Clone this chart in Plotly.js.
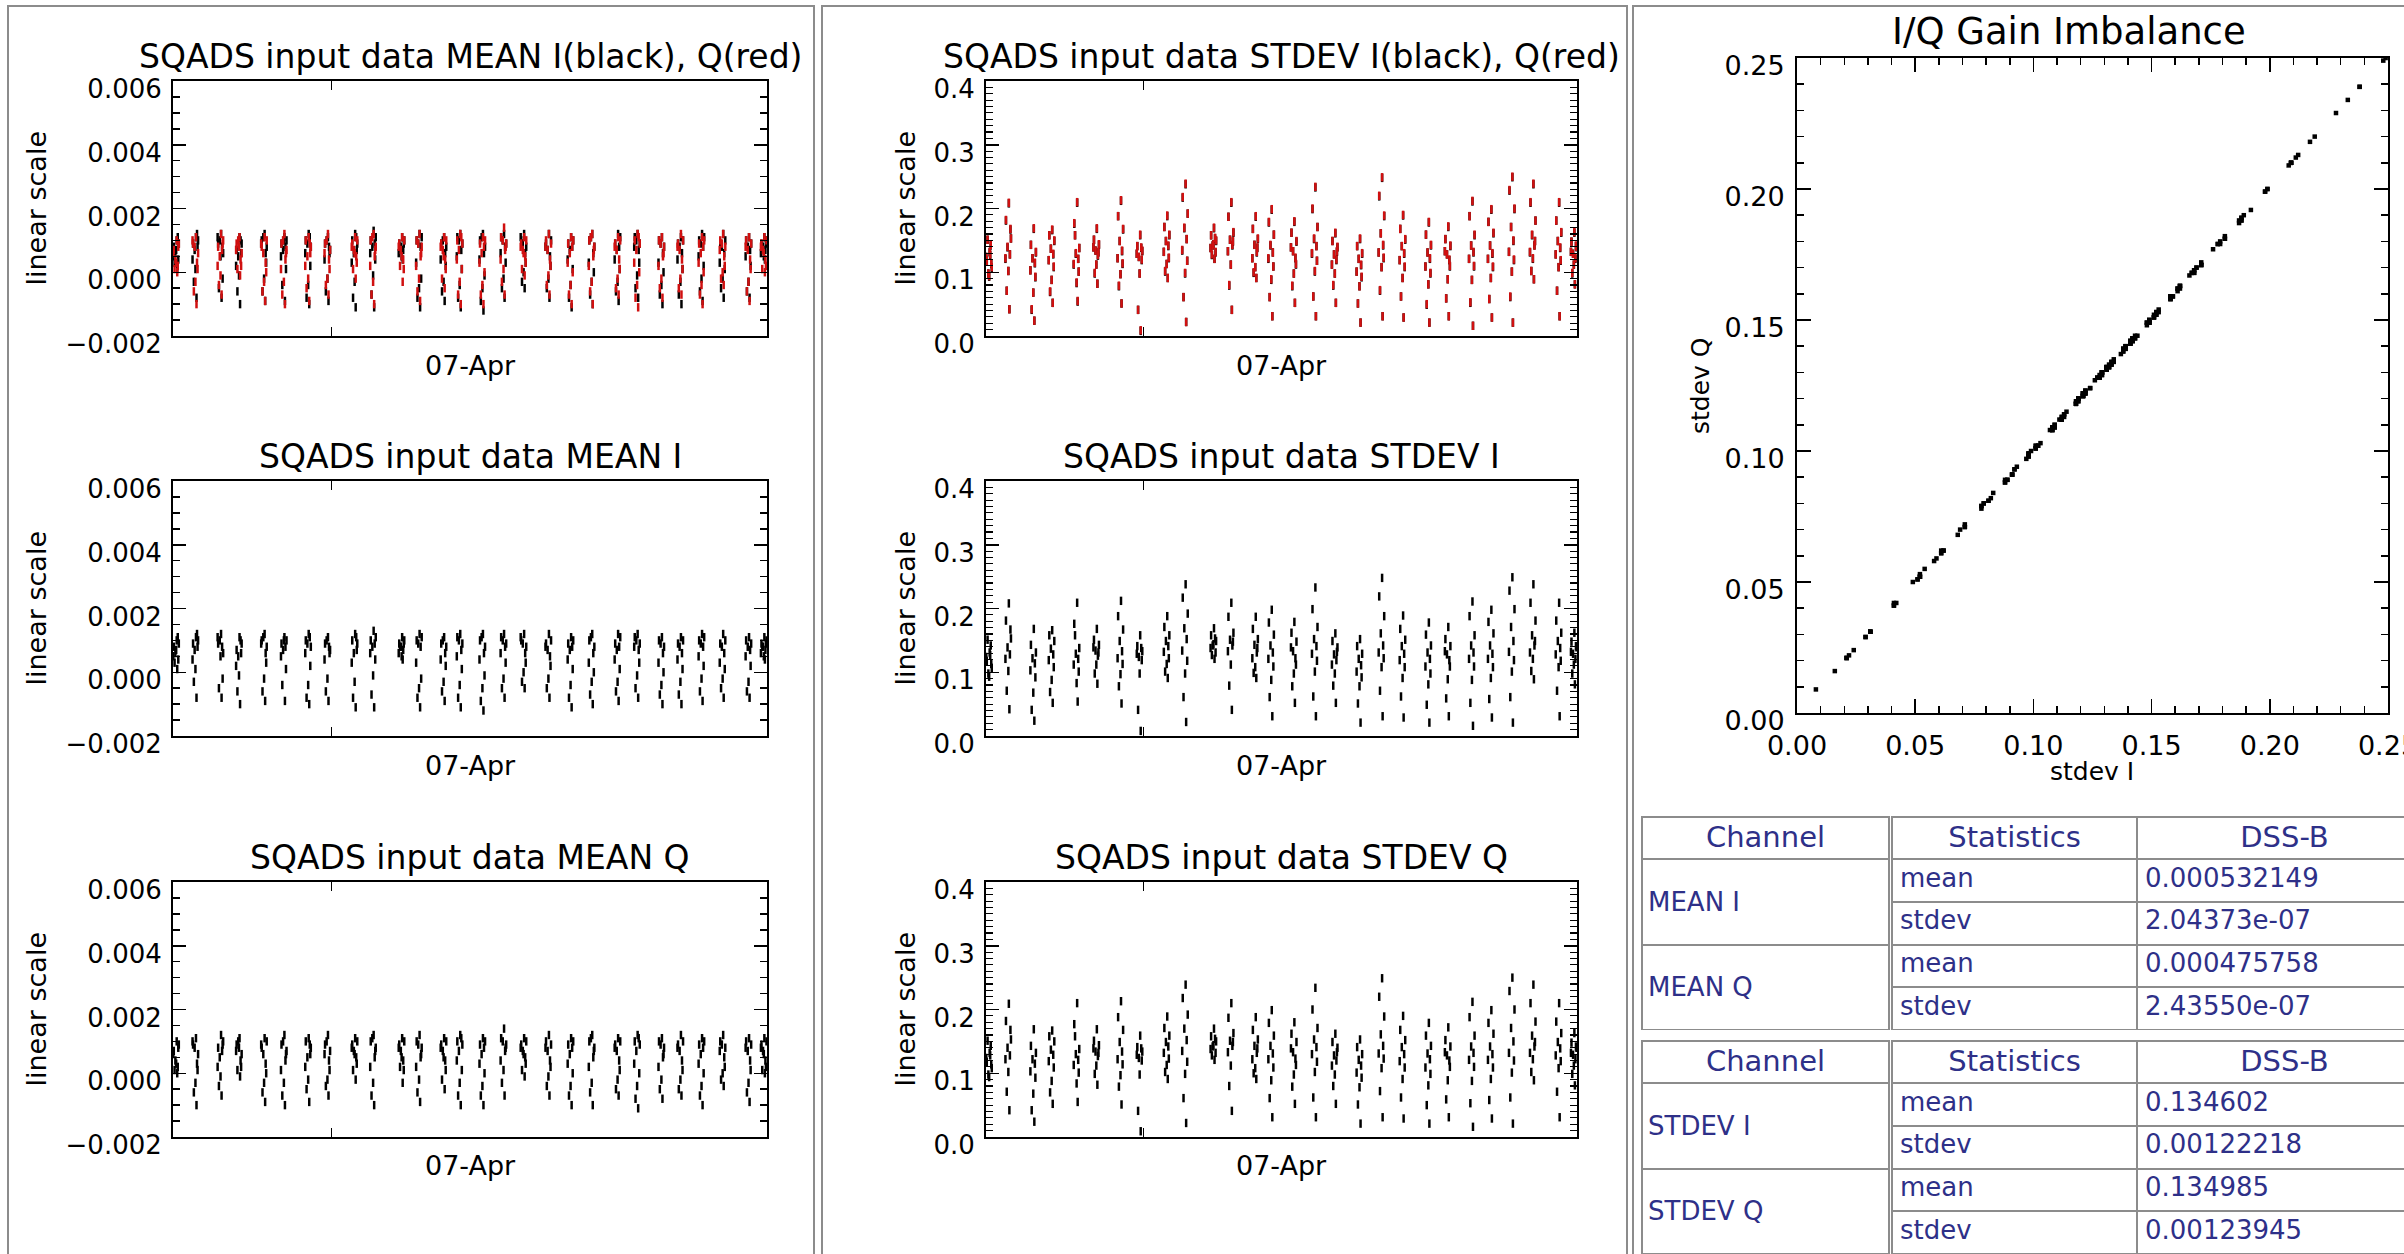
<!DOCTYPE html>
<html><head><meta charset="utf-8">
<script src="https://cdn.plot.ly/plotly-3.0.1.min.js"></script>
<style>html,body{margin:0;padding:0;background:#fff;overflow:hidden;width:2404px;height:1254px}#chart{width:2440px;height:1254px}</style>
</head><body><div id="chart"></div>
<script>
// ---- data (hours after 06-Apr 18:00) ----
const timeHours = [
0.14,0.03,0.22,0.09,0.18,0.01,0.20,0.12,0.06,0.16,
0.87,0.76,0.95,0.82,0.91,0.74,0.93,0.85,0.79,0.89,
1.82,1.71,1.90,1.77,1.86,1.69,1.88,1.80,1.74,1.84,
2.52,2.41,2.60,2.47,2.56,2.39,2.58,2.50,2.44,2.54,
3.47,3.36,3.55,3.42,3.51,3.34,3.53,3.45,3.39,3.49,
4.22,4.11,4.30,4.17,4.26,4.09,4.28,4.20,4.14,4.24,
5.14,5.03,5.22,5.09,5.18,5.01,5.20,5.12,5.06,5.16,
5.87,5.76,5.95,5.82,5.91,5.74,5.93,5.85,5.79,5.89,
6.90,6.79,6.98,6.85,6.94,6.77,6.96,6.88,6.82,6.92,
7.60,7.49,7.68,7.55,7.64,7.47,7.66,7.58,7.52,7.62,
8.68,8.57,8.76,8.63,8.72,8.55,8.74,8.66,8.60,8.70,
9.34,9.23,9.42,9.29,9.38,9.21,9.40,9.32,9.26,9.36,
10.27,10.16,10.35,10.22,10.31,10.14,10.33,10.25,10.19,10.29,
10.88,10.77,10.96,10.83,10.92,10.75,10.94,10.86,10.80,10.90,
11.74,11.63,11.82,11.69,11.78,11.61,11.80,11.72,11.66,11.76,
12.54,12.43,12.62,12.49,12.58,12.41,12.60,12.52,12.46,12.56,
13.30,13.19,13.38,13.25,13.34,13.17,13.36,13.28,13.22,13.32,
14.24,14.13,14.32,14.19,14.28,14.11,14.30,14.22,14.16,14.26,
15.08,14.97,15.16,15.03,15.12,14.95,15.14,15.06,15.00,15.10,
15.88,15.77,15.96,15.83,15.92,15.75,15.94,15.86,15.80,15.90,
16.86,16.75,16.94,16.81,16.90,16.73,16.92,16.84,16.78,16.88,
17.60,17.49,17.68,17.55,17.64,17.47,17.66,17.58,17.52,17.62,
18.52,18.41,18.60,18.47,18.56,18.39,18.58,18.50,18.44,18.54,
19.24,19.13,19.32,19.19,19.28,19.11,19.30,19.22,19.16,19.26,
20.04,19.93,20.12,19.99,20.08,19.91,20.10,20.02,19.96,20.06,
20.84,20.73,20.92,20.79,20.88,20.71,20.90,20.82,20.76,20.86,
21.82,21.71,21.90,21.77,21.86,21.69,21.88,21.80,21.74,21.84,
22.40,22.29,22.48,22.35,22.44,22.27,22.46,22.38,22.32,22.42
];
const meanI = [
0.0010,0.0008,0.0009,0.0006,0.0011,0.0005,0.0004,0.0007,0.0003,0.0001,
0.0011,0.0009,0.0010,0.0007,0.0012,0.0004,0.0008,0.0001,-0.0003,-0.0008,
0.0012,0.0009,0.0006,0.0010,0.0008,0.0011,-0.0002,0.0005,-0.0005,-0.0008,
0.0011,0.0007,0.0009,0.0005,0.0010,0.0002,0.0006,-0.0001,-0.0006,-0.0010,
0.0012,0.0010,0.0008,0.0011,0.0006,0.0009,0.0003,-0.0002,-0.0006,-0.0009,
0.0011,0.0009,0.0010,0.0007,0.0008,0.0005,0.0001,0.0010,-0.0004,-0.0009,
0.0012,0.0010,0.0008,0.0009,0.0011,0.0006,0.0002,-0.0004,-0.0008,-0.0010,
0.0011,0.0009,0.0007,0.0010,0.0008,0.0004,0.0006,-0.0002,-0.0006,-0.0009,
0.0012,0.0010,0.0009,0.0006,0.0011,0.0003,0.0007,-0.0003,-0.0008,-0.0011,
0.0013,0.0010,0.0011,0.0008,0.0009,0.0006,0.0004,-0.0001,-0.0007,-0.0011,
0.0011,0.0009,0.0010,0.0008,0.0007,0.0006,0.0009,0.0005,0.0008,0.0004,
0.0012,0.0010,0.0011,0.0009,0.0008,0.0003,-0.0002,-0.0005,-0.0008,-0.0011,
0.0011,0.0009,0.0008,0.0010,0.0006,0.0004,0.0002,-0.0003,-0.0006,-0.0009,
0.0012,0.0011,0.0009,0.0010,0.0007,0.0005,0.0001,-0.0004,-0.0008,-0.0011,
0.0012,0.0010,0.0008,0.0011,0.0006,0.0004,-0.0001,-0.0005,-0.0009,-0.0012,
0.0012,0.0011,0.0009,0.0010,0.0008,0.0006,0.0003,-0.0002,-0.0005,-0.0008,
0.0012,0.0010,0.0008,0.0009,0.0006,0.0011,0.0003,0.0000,-0.0003,-0.0005,
0.0012,0.0009,0.0010,0.0007,0.0005,0.0008,0.0002,-0.0002,-0.0005,-0.0008,
0.0011,0.0009,0.0010,0.0007,0.0008,0.0004,0.0001,-0.0004,-0.0008,-0.0011,
0.0012,0.0010,0.0008,0.0011,0.0006,0.0003,0.0000,-0.0003,-0.0007,-0.0010,
0.0012,0.0009,0.0011,0.0007,0.0008,0.0004,0.0001,-0.0003,-0.0006,-0.0009,
0.0012,0.0011,0.0009,0.0010,0.0007,0.0008,0.0003,-0.0001,-0.0005,-0.0008,
0.0011,0.0010,0.0008,0.0009,0.0006,0.0003,0.0000,-0.0004,-0.0007,-0.0010,
0.0011,0.0009,0.0010,0.0008,0.0006,0.0004,0.0001,-0.0003,-0.0007,-0.0010,
0.0012,0.0010,0.0011,0.0009,0.0008,0.0005,0.0002,-0.0002,-0.0006,-0.0009,
0.0012,0.0009,0.0010,0.0008,0.0006,0.0003,0.0001,-0.0002,-0.0005,-0.0008,
0.0011,0.0010,0.0009,0.0008,0.0007,0.0005,0.0002,-0.0003,-0.0006,-0.0008,
0.0011,0.0009,0.0010,0.0008,0.0007,0.0006,0.0009,0.0005,0.0008,0.0004
];
const meanQ = [
0.0010,0.0007,0.0009,0.0004,0.0002,0.0006,0.0008,0.0003,0.0001,0.0000,
0.0011,0.0009,0.0006,0.0008,0.0003,0.0010,0.0001,-0.0003,-0.0006,-0.0010,
0.0012,0.0008,0.0010,0.0005,0.0007,0.0002,0.0009,-0.0001,-0.0004,-0.0007,
0.0011,0.0009,0.0006,0.0010,0.0004,0.0007,0.0002,0.0008,0.0001,-0.0001,
0.0011,0.0008,0.0010,0.0006,0.0003,0.0009,0.0000,-0.0003,-0.0006,-0.0009,
0.0012,0.0009,0.0007,0.0010,0.0004,0.0001,0.0006,-0.0003,-0.0007,-0.0010,
0.0011,0.0010,0.0008,0.0005,0.0009,0.0002,0.0006,-0.0002,-0.0005,-0.0009,
0.0012,0.0009,0.0007,0.0010,0.0004,0.0006,0.0001,-0.0002,-0.0004,-0.0007,
0.0011,0.0009,0.0010,0.0007,0.0005,0.0008,0.0003,0.0006,0.0001,-0.0002,
0.0012,0.0010,0.0008,0.0011,0.0005,0.0002,0.0007,-0.0003,-0.0007,-0.0010,
0.0011,0.0009,0.0010,0.0007,0.0004,0.0008,0.0001,0.0005,0.0002,-0.0003,
0.0012,0.0010,0.0008,0.0009,0.0005,0.0002,0.0006,-0.0002,-0.0006,-0.0009,
0.0011,0.0009,0.0010,0.0007,0.0004,0.0008,0.0001,0.0005,-0.0002,-0.0005,
0.0012,0.0010,0.0009,0.0007,0.0011,0.0004,0.0001,-0.0003,-0.0007,-0.0010,
0.0011,0.0009,0.0010,0.0006,0.0008,0.0003,0.0000,-0.0004,-0.0007,-0.0010,
0.0014,0.0011,0.0009,0.0010,0.0007,0.0004,0.0008,0.0001,-0.0003,-0.0007,
0.0011,0.0009,0.0010,0.0007,0.0005,0.0008,0.0003,0.0006,0.0001,-0.0001,
0.0012,0.0010,0.0009,0.0007,0.0004,0.0008,0.0002,-0.0001,-0.0004,-0.0007,
0.0011,0.0009,0.0010,0.0006,0.0008,0.0003,0.0000,-0.0004,-0.0007,-0.0010,
0.0012,0.0010,0.0008,0.0011,0.0005,0.0002,0.0007,-0.0003,-0.0006,-0.0010,
0.0011,0.0009,0.0010,0.0007,0.0004,0.0008,0.0001,-0.0002,-0.0005,-0.0007,
0.0012,0.0010,0.0009,0.0007,0.0011,0.0003,0.0000,-0.0004,-0.0008,-0.0011,
0.0011,0.0010,0.0008,0.0009,0.0005,0.0002,0.0006,-0.0002,-0.0005,-0.0008,
0.0012,0.0009,0.0010,0.0007,0.0004,0.0008,0.0001,-0.0002,-0.0005,-0.0007,
0.0011,0.0009,0.0010,0.0006,0.0008,0.0003,0.0000,-0.0004,-0.0007,-0.0010,
0.0012,0.0010,0.0008,0.0009,0.0005,0.0007,0.0002,0.0000,-0.0002,-0.0004,
0.0011,0.0010,0.0009,0.0007,0.0004,0.0008,0.0001,-0.0003,-0.0006,-0.0009,
0.0011,0.0009,0.0010,0.0007,0.0004,0.0008,0.0002,0.0006,0.0001,0.0000
];
const stdevI = [
0.131,0.118,0.107,0.098,0.142,0.124,0.113,0.093,0.151,0.127,
0.208,0.181,0.153,0.139,0.128,0.121,0.167,0.102,0.071,0.042,
0.168,0.143,0.131,0.122,0.114,0.103,0.092,0.068,0.041,0.024,
0.166,0.158,0.149,0.137,0.128,0.119,0.108,0.088,0.069,0.052,
0.209,0.176,0.138,0.129,0.121,0.112,0.101,0.083,0.158,0.054,
0.168,0.151,0.143,0.134,0.126,0.139,0.131,0.112,0.098,0.082,
0.212,0.188,0.167,0.149,0.133,0.122,0.113,0.097,0.078,0.051,
0.158,0.141,0.133,0.124,0.138,0.129,0.119,0.098,0.041,0.008,
0.188,0.171,0.158,0.149,0.141,0.132,0.122,0.113,0.101,0.091,
0.238,0.217,0.192,0.169,0.152,0.134,0.118,0.098,0.061,0.022,
0.169,0.158,0.149,0.142,0.153,0.138,0.131,0.144,0.127,0.121,
0.209,0.187,0.162,0.151,0.142,0.133,0.148,0.112,0.079,0.041,
0.187,0.168,0.152,0.143,0.131,0.122,0.138,0.108,0.099,0.091,
0.198,0.178,0.159,0.142,0.131,0.121,0.109,0.088,0.061,0.031,
0.179,0.162,0.148,0.133,0.122,0.139,0.112,0.098,0.078,0.052,
0.233,0.199,0.171,0.152,0.141,0.129,0.118,0.101,0.062,0.031,
0.161,0.149,0.139,0.128,0.119,0.112,0.132,0.098,0.079,0.052,
0.152,0.141,0.129,0.121,0.111,0.101,0.092,0.078,0.051,0.021,
0.248,0.219,0.188,0.161,0.142,0.131,0.122,0.108,0.071,0.031,
0.189,0.168,0.151,0.141,0.129,0.119,0.108,0.091,0.062,0.029,
0.178,0.159,0.142,0.131,0.121,0.109,0.098,0.081,0.049,0.021,
0.171,0.152,0.141,0.128,0.119,0.133,0.109,0.089,0.059,0.031,
0.211,0.188,0.158,0.142,0.131,0.121,0.109,0.088,0.052,0.016,
0.198,0.179,0.161,0.142,0.129,0.121,0.108,0.091,0.058,0.029,
0.249,0.228,0.199,0.171,0.149,0.132,0.119,0.101,0.061,0.021,
0.238,0.209,0.181,0.158,0.142,0.131,0.149,0.121,0.102,0.089,
0.209,0.181,0.162,0.149,0.138,0.128,0.118,0.108,0.071,0.031,
0.162,0.148,0.139,0.129,0.121,0.132,0.141,0.112,0.098,0.081
];
const stdevQ = [
0.132,0.118,0.108,0.098,0.143,0.124,0.114,0.094,0.151,0.128,
0.209,0.182,0.153,0.140,0.128,0.122,0.168,0.102,0.071,0.042,
0.169,0.143,0.132,0.122,0.115,0.103,0.093,0.068,0.042,0.024,
0.167,0.158,0.150,0.137,0.129,0.119,0.109,0.088,0.070,0.052,
0.210,0.177,0.138,0.130,0.121,0.113,0.101,0.084,0.158,0.055,
0.169,0.151,0.144,0.134,0.127,0.139,0.132,0.112,0.099,0.082,
0.213,0.188,0.168,0.149,0.134,0.122,0.114,0.097,0.079,0.051,
0.159,0.141,0.134,0.124,0.139,0.129,0.120,0.098,0.041,0.009,
0.189,0.171,0.159,0.149,0.142,0.132,0.123,0.113,0.102,0.091,
0.239,0.218,0.192,0.170,0.152,0.135,0.118,0.099,0.061,0.022,
0.170,0.158,0.150,0.142,0.154,0.138,0.132,0.144,0.128,0.121,
0.210,0.187,0.163,0.151,0.143,0.133,0.149,0.112,0.080,0.041,
0.188,0.168,0.153,0.143,0.132,0.122,0.139,0.108,0.100,0.091,
0.199,0.179,0.159,0.143,0.131,0.122,0.109,0.089,0.061,0.031,
0.180,0.162,0.149,0.133,0.123,0.139,0.113,0.098,0.079,0.052,
0.234,0.200,0.171,0.153,0.141,0.130,0.118,0.102,0.062,0.031,
0.162,0.149,0.140,0.128,0.120,0.112,0.133,0.098,0.080,0.052,
0.153,0.141,0.130,0.121,0.112,0.101,0.093,0.078,0.051,0.021,
0.249,0.220,0.189,0.161,0.143,0.131,0.123,0.108,0.072,0.031,
0.190,0.168,0.152,0.141,0.130,0.119,0.109,0.091,0.062,0.029,
0.179,0.159,0.143,0.131,0.122,0.109,0.099,0.081,0.050,0.021,
0.172,0.152,0.142,0.128,0.120,0.133,0.110,0.089,0.059,0.031,
0.212,0.188,0.159,0.142,0.132,0.121,0.110,0.088,0.053,0.016,
0.199,0.179,0.162,0.142,0.130,0.121,0.109,0.091,0.058,0.029,
0.250,0.229,0.200,0.171,0.150,0.132,0.120,0.101,0.062,0.021,
0.239,0.210,0.181,0.159,0.142,0.132,0.149,0.122,0.102,0.089,
0.210,0.181,0.163,0.149,0.139,0.128,0.119,0.108,0.071,0.031,
0.163,0.148,0.140,0.129,0.122,0.132,0.142,0.112,0.099,0.081
];
const dayTickHours = [6];
const dayLabel = '07-Apr';
const tableHeader = ['Channel', 'Statistics', 'DSS-B'];
const meanChannels = ['MEAN I', 'MEAN Q'];
const stdevChannels = ['STDEV I', 'STDEV Q'];
const statNames = ['mean', 'stdev', 'mean', 'stdev'];
const meanDssB = ['0.000532149', '2.04373e-07', '0.000475758', '2.43550e-07'];
const stdevDssB = ['0.134602', '0.00122218', '0.134985', '0.00123945'];

// ---- layout helpers ----
const W = 2440, H = 1254;
const FONT = 'DejaVu Sans';
const px = v => v / W;
const py = v => 1 - v / H;
const dX = (a, b) => [px(a), px(b)];
const dY = (top, bot) => [py(bot), py(top)];

const colX = { c1: [173, 767], c2: [986, 1577] };
const rowY = { r1: [81, 336], r2: [481, 736], r3: [882, 1137] };

const common = { showgrid: false, zeroline: false, showline: true, linecolor: '#000', linewidth: 2,
  mirror: 'allticks', ticks: 'inside', tickwidth: 1.5, tickcolor: '#000' };

function timeAxis(dom, anchor) {
  return Object.assign({}, common, { domain: dom, anchor: anchor, range: [0, 22.5],
    ticklen: 9, tickvals: dayTickHours, showticklabels: false });
}
function meanAxis(dom, anchor) {
  return Object.assign({}, common, { domain: dom, anchor: anchor, range: [-0.002, 0.006], tick0: 0, dtick: 0.002,
    tickformat: '.3f', ticklen: 13,
    minor: { dtick: 0.0005, ticks: 'inside', ticklen: 7, tickwidth: 1.5, tickcolor: '#000', showgrid: false },
    tickfont: { family: FONT, size: 26, color: '#000' }, ticklabelshift: 8, ticklabelstandoff: 4 });
}
function stdAxis(dom, anchor) {
  return Object.assign({}, common, { domain: dom, anchor: anchor, range: [0, 0.4], tick0: 0, dtick: 0.1,
    tickformat: '.1f', ticklen: 13,
    minor: { dtick: 0.01, ticks: 'inside', ticklen: 7, tickwidth: 1.2, tickcolor: '#000', showgrid: false },
    tickfont: { family: FONT, size: 26, color: '#000' }, ticklabelshift: 8, ticklabelstandoff: 4 });
}
function gainAxis(dom, anchor, isX) {
  const a = Object.assign({}, common, { domain: dom, anchor: anchor, range: [0, 0.25], tick0: 0, dtick: 0.05,
    tickformat: '.2f', ticklen: 14,
    minor: { dtick: 0.01, ticks: 'inside', ticklen: 7, tickwidth: 1.5, tickcolor: '#000', showgrid: false },
    tickfont: { family: FONT, size: 27, color: '#000' } });
  if (isX) { a.ticklabelstandoff = 8; } else { a.ticklabelshift = 8; a.ticklabelstandoff = 5; }
  return a;
}

function dots(x, y, xa, ya, color) {
  return { type: 'scatter', mode: 'markers', x: x, y: y, xaxis: xa, yaxis: ya, hoverinfo: 'skip',
    marker: { symbol: 'line-ns-open', size: 6, color: color, line: { width: 2.5, color: color } } };
}
const BLACK = '#000000', RED = '#d01010';

const traces = [
  dots(timeHours, meanI, 'x', 'y', BLACK),
  dots(timeHours, meanQ, 'x', 'y', RED),
  dots(timeHours, meanI, 'x2', 'y2', BLACK),
  dots(timeHours, meanQ, 'x3', 'y3', BLACK),
  dots(timeHours, stdevI, 'x4', 'y4', BLACK),
  dots(timeHours, stdevQ, 'x4', 'y4', RED),
  dots(timeHours, stdevI, 'x5', 'y5', BLACK),
  dots(timeHours, stdevQ, 'x6', 'y6', BLACK),
  { type: 'scatter', mode: 'markers', x: stdevI, y: stdevQ, xaxis: 'x7', yaxis: 'y7', hoverinfo: 'skip',
    marker: { symbol: 'square', size: 4.5, color: '#000', line: { width: 0 } } }
];

// ---- tables ----
const NAVY = '#2e3088', GRID = '#8c8c8c', TFS = 26, HFS = 29;
const T = { x0: 1642, x1: 1889, x2: 1892, xs: 2137, x3: 2432, headH: 42, rowH: 42.75, top1: 817, top2: 1041 };
function tbl(xdom, top, headers, cols, cellH, aligns, widths) {
  const bot = top + T.headH + 4 * T.rowH;
  return { type: 'table', domain: { x: xdom, y: dY(top, bot) }, columnwidth: widths,
    header: { values: headers, height: T.headH, align: 'center', fill: { color: '#fff' },
      line: { color: GRID, width: 2 }, font: { family: FONT, size: HFS, color: NAVY } },
    cells: { values: cols, height: cellH, align: aligns, fill: { color: '#fff' },
      line: { color: GRID, width: 2 }, font: { family: FONT, size: TFS, color: NAVY } } };
}
const blanks = arr => arr.map(() => '');
traces.push(tbl(dX(T.x0, T.x1), T.top1, [tableHeader[0]], [blanks(meanChannels)], 2 * T.rowH, ['left'], [1]));
traces.push(tbl(dX(T.x2, T.x3), T.top1, [tableHeader[1], tableHeader[2]], [statNames, meanDssB], T.rowH, ['left', 'left'], [T.xs - T.x2, T.x3 - T.xs]));
traces.push(tbl(dX(T.x0, T.x1), T.top2, [tableHeader[0]], [blanks(stdevChannels)], 2 * T.rowH, ['left'], [1]));
traces.push(tbl(dX(T.x2, T.x3), T.top2, [tableHeader[1], tableHeader[2]], [statNames, stdevDssB], T.rowH, ['left', 'left'], [T.xs - T.x2, T.x3 - T.xs]));

function ann(text, x, y, size, angle, color, xanchor) {
  return { text: text, x: px(x), y: py(y), xref: 'paper', yref: 'paper', showarrow: false,
    xanchor: xanchor || 'center', yanchor: 'middle', textangle: angle || 0,
    font: { family: FONT, size: size, color: color || '#000' } };
}
const c1m = (colX.c1[0] + colX.c1[1]) / 2, c2m = (colX.c2[0] + colX.c2[1]) / 2;
const rm = r => (r[0] + r[1]) / 2;
const annotations = [
  ann('SQADS input data MEAN I(black), Q(red)', c1m, 57, 33),
  ann('SQADS input data MEAN I', c1m, 457, 33),
  ann('SQADS input data MEAN Q', c1m, 857, 33),
  ann('SQADS input data STDEV I(black), Q(red)', c2m, 57, 33),
  ann('SQADS input data STDEV I', c2m, 457, 33),
  ann('SQADS input data STDEV Q', c2m, 857, 33),
  ann(dayLabel, c1m, 365, 27), ann(dayLabel, c1m, 765, 27), ann(dayLabel, c1m, 1165, 27),
  ann(dayLabel, c2m, 365, 27), ann(dayLabel, c2m, 765, 27), ann(dayLabel, c2m, 1165, 27),
  ann('I/Q Gain Imbalance', 2069, 32, 37),
  ann('stdev Q', 1700, 386, 25, -90),
  ann('stdev I', 2092, 771, 25)
];
[rowY.r1, rowY.r2, rowY.r3].forEach(r => {
  annotations.push(ann('linear scale', 36, rm(r), 27, -90));
  annotations.push(ann('linear scale', 905, rm(r), 27, -90));
});
// merged channel cells: label centred over its two rows
[[meanChannels, T.top1], [stdevChannels, T.top2]].forEach(([names, top]) => {
  names.forEach((n, i) => {
    const yc = top + T.headH + (2 * i + 1) * T.rowH;
    annotations.push(ann(n, T.x0 + 4, yc, TFS, 0, NAVY, 'left'));
  });
});

const frame = (x0, x1) => ({ type: 'rect', xref: 'paper', yref: 'paper', x0: px(x0), x1: px(x1), y0: py(1300), y1: py(6),
  line: { color: GRID, width: 2 }, fillcolor: 'rgba(0,0,0,0)', layer: 'below' });

const layout = {
  width: W, height: H, margin: { l: 0, r: 0, t: 0, b: 0 }, showlegend: false,
  paper_bgcolor: '#fff', plot_bgcolor: '#fff', font: { family: FONT, color: '#000' },
  xaxis: timeAxis(dX(...colX.c1), 'y'),  yaxis: meanAxis(dY(...rowY.r1), 'x'),
  xaxis2: timeAxis(dX(...colX.c1), 'y2'), yaxis2: meanAxis(dY(...rowY.r2), 'x2'),
  xaxis3: timeAxis(dX(...colX.c1), 'y3'), yaxis3: meanAxis(dY(...rowY.r3), 'x3'),
  xaxis4: timeAxis(dX(...colX.c2), 'y4'), yaxis4: stdAxis(dY(...rowY.r1), 'x4'),
  xaxis5: timeAxis(dX(...colX.c2), 'y5'), yaxis5: stdAxis(dY(...rowY.r2), 'x5'),
  xaxis6: timeAxis(dX(...colX.c2), 'y6'), yaxis6: stdAxis(dY(...rowY.r3), 'x6'),
  xaxis7: gainAxis(dX(1797, 2388), 'y7', true), yaxis7: gainAxis(dY(58, 713), 'x7', false),
  annotations: annotations,
  shapes: [frame(8, 814), frame(822, 1627), frame(1633, 2600)]
};

Plotly.newPlot('chart', traces, layout, { staticPlot: true, displayModeBar: false });
</script></body></html>
